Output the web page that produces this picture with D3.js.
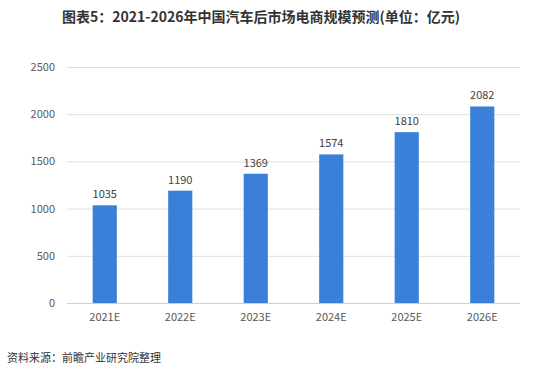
<!DOCTYPE html>
<html>
<head>
<meta charset="utf-8">
<script src="https://cdn.jsdelivr.net/npm/d3@7"></script>
<style>
  body { margin: 0; background: #fff; }
  text { font-family: "Noto Sans CJK SC", "Open Sans", sans-serif; }
</style>
</head>
<body>
<svg id="chart" width="550" height="377"></svg>
<script>
// data
const years = ["2021E", "2022E", "2023E", "2024E", "2025E", "2026E"];
const values = [1035, 1190, 1369, 1574, 1810, 2082];
const yTicks = [0, 500, 1000, 1500, 2000, 2500];

const svg = d3.select("#chart");
const margin = { left: 67, right: 30, top: 67, bottom: 74 };
const width = 550, height = 377;

const x = d3.scaleBand()
  .domain(years)
  .range([margin.left, width - margin.right])
  .paddingInner(0.68)
  .paddingOuter(0.34);

const y = d3.scaleLinear()
  .domain([0, 2500])
  .range([height - margin.bottom, margin.top]);

// title
svg.append("text")
  .attr("x", 261)
  .attr("y", 22)
  .attr("text-anchor", "middle")
  .attr("font-size", "14px")
  .attr("font-weight", "bold")
  .attr("fill", "#333")
  .text("图表5：2021-2026年中国汽车后市场电商规模预测(单位：亿元)");

// gridlines
svg.selectAll("line.grid")
  .data(yTicks)
  .enter()
  .append("line")
  .attr("class", "grid")
  .attr("x1", margin.left)
  .attr("x2", width - margin.right)
  .attr("y1", d => y(d) + 0.5)
  .attr("y2", d => y(d) + 0.5)
  .attr("stroke", d => d === 0 ? "#cfcfcf" : "#e0e0e0")
  .attr("stroke-width", 1);

// y tick labels
svg.selectAll("text.ytick")
  .data(yTicks)
  .enter()
  .append("text")
  .attr("class", "ytick")
  .attr("x", 55)
  .attr("y", d => y(d) + 4)
  .attr("text-anchor", "end")
  .attr("font-size", "11px")
  .attr("fill", "#595959")
  .text(d => d);

// bars
svg.selectAll("rect")
  .data(values)
  .enter()
  .append("rect")
  .attr("x", (d, i) => x(years[i]))
  .attr("y", d => y(d))
  .attr("width", x.bandwidth())
  .attr("height", d => y(0) - y(d))
  .attr("fill", "#3b80d8");

// value labels
svg.selectAll("text.val")
  .data(values)
  .enter()
  .append("text")
  .attr("class", "val")
  .attr("x", (d, i) => x(years[i]) + x.bandwidth() / 2)
  .attr("y", d => y(d) - 7)
  .attr("text-anchor", "middle")
  .attr("font-size", "11px")
  .attr("fill", "#404040")
  .text(d => d);

// x labels
svg.selectAll("text.xl")
  .data(years)
  .enter()
  .append("text")
  .attr("class", "xl")
  .attr("x", d => x(d) + x.bandwidth() / 2)
  .attr("y", y(0) + 18)
  .attr("text-anchor", "middle")
  .attr("font-size", "11px")
  .attr("fill", "#595959")
  .text(d => d);

// source
svg.append("text")
  .attr("x", 7)
  .attr("y", 362)
  .attr("font-size", "11px")
  .attr("fill", "#333")
  .text("资料来源：前瞻产业研究院整理");
</script>
</body>
</html>
